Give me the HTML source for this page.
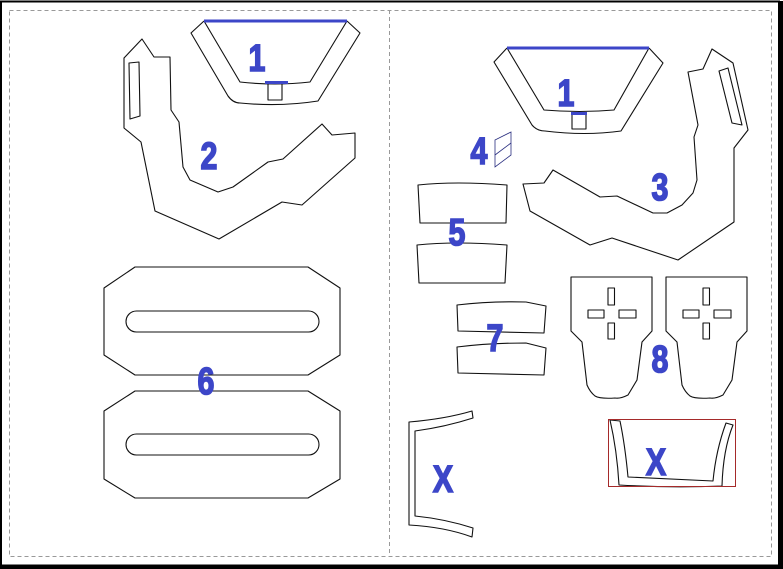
<!DOCTYPE html>
<html><head><meta charset="utf-8"><style>
html,body{margin:0;padding:0;background:#fff;}
svg{display:block;}
text{font-family:"Liberation Sans Narrow","Liberation Sans",sans-serif;font-weight:bold;fill:#3c46c8;stroke:#3c46c8;stroke-width:1.6;text-anchor:middle;}
</style></head><body>
<svg width="783" height="569" viewBox="0 0 783 569" xmlns="http://www.w3.org/2000/svg">
<rect x="0" y="0" width="783" height="569" fill="#fff"/>
<rect x="1" y="1.5" width="778" height="564" fill="none" stroke="#000" stroke-width="2"/>
<rect x="779" y="1" width="4" height="568" fill="#000"/>
<rect x="0" y="565" width="783" height="4" fill="#000"/>
<g fill="none" stroke="#999" stroke-width="1" stroke-dasharray="4,3">
<rect x="9.5" y="10.5" width="762" height="546"/>
<line x1="389.5" y1="10" x2="389.5" y2="556"/>
</g>
<g fill="none" stroke="#111" stroke-width="1.1" stroke-linejoin="round">
<path d="M204,21 L191,33 L228,96 Q233,103 240,103 Q280,107 318,101 L360,33 L347,21"/>
<path d="M204,21 L240,82 Q275,86 310,82 L347,21"/>
<rect x="268" y="83" width="14" height="17"/>
<path d="M142,39 L154,57 L170,57 L171,110 L179,122 L183,167 L190,180 L218,192 L233,187 L268,162 L283,159 L322,124 L332,135 L355,133 L355,158 L302,205 L282,202 L219,239 L155,211 L141,142 L124,128 L124,58 Z"/>
<path d="M129,63 L139,62 L140,116 L130,119 Z"/>
<path d="M507,48 L494,62 L532,125 Q537,131 545,131 Q585,136 621,131 L663,63 L649,48"/>
<path d="M507,48 L544,110 Q580,113 614,110 L649,48"/>
<rect x="572" y="114" width="14" height="15"/>
<path d="M712,49 L733,63 L748,130 L734,148 L734,222 L678,260 L612,238 L590,245 L530,211 L523,184 L544,183 L553,170 L600,197 L617,196 L653,213 L667,213 L682,205 L693,193 L697,180 L694,137 L698,125 L688,72 L703,69 Z"/>
<path d="M719,71 L728,68 L742,125 L732,123 Z"/>
<path d="M418,185 Q455,181 507,185 L506,223 L420,223 Z"/>
<path d="M417,245 Q455,241 507,245 L505,283 L419,283 Z"/>
<path d="M457,305 Q490,301 526,302 L546,306 L544,333 L458,331 Z"/>
<path d="M457,347 Q490,343 526,343 L546,348 L544,375 L458,373 Z"/>
<g id="p8">
<path d="M571,277 L652,277 L652,331 L642,342 L637,380 L628,395 Q620,399 615,398 Q600,399 595,396 Q590,392 587,385 L582,342 L571,331 Z"/>
<rect x="608" y="288" width="6.5" height="17"/>
<rect x="608" y="323" width="6.5" height="16"/>
<rect x="588" y="310" width="16" height="8"/>
<rect x="619" y="310" width="17" height="8"/>
</g>
<use href="#p8" x="95"/>
<path d="M135,267 L308,267 L340,288 L340,355 L308,375 L135,375 L104,355 L104,288 Z"/>
<rect x="126" y="311" width="193" height="21" rx="10.5"/>
<path d="M135,391 L308,391 L340,411 L340,479 L308,498 L135,498 L104,479 L104,411 Z"/>
<rect x="126" y="434" width="193" height="21" rx="10.5"/>
<path d="M409,422 Q445,419 472,411 L473,418 Q445,427 415,431 L415,516 Q445,519 473,528 L472,537 Q445,527 409,525 Z"/>
<path d="M610,420 Q617,450 619,485 Q670,488 722,486 Q723,450 733,425 L726,423 Q716,450 713,481 L628,477 Q625,445 620,421 Z"/>
</g>
<rect x="608.5" y="419.5" width="127" height="67" fill="none" stroke="#a52a2a" stroke-width="1"/>
<line x1="204" y1="21" x2="347" y2="21" stroke="#3c46c8" stroke-width="3"/>
<line x1="265" y1="82.5" x2="288" y2="82.5" stroke="#3c46c8" stroke-width="3"/>
<line x1="507" y1="48" x2="649" y2="48" stroke="#3c46c8" stroke-width="3"/>
<line x1="571" y1="113.5" x2="587" y2="113.5" stroke="#3c46c8" stroke-width="3"/>
<g fill="none" stroke="#2a2f80" stroke-width="0.8">
<path d="M495,140 L511,132 L511,155 L495,167 Z"/>
<line x1="495" y1="155" x2="511" y2="143"/>
</g>
<g font-size="38">
<text x="257" y="71" transform="translate(257 0) scale(0.8 1) translate(-257 0)">1</text>
<text x="209" y="169" transform="translate(209 0) scale(0.8 1) translate(-209 0)">2</text>
<text x="566" y="106" transform="translate(566 0) scale(0.8 1) translate(-566 0)">1</text>
<text x="479" y="164" transform="translate(479 0) scale(0.8 1) translate(-479 0)">4</text>
<text x="660" y="200" transform="translate(660 0) scale(0.8 1) translate(-660 0)">3</text>
<text x="457" y="245" transform="translate(457 0) scale(0.8 1) translate(-457 0)">5</text>
<text x="495" y="351" transform="translate(495 0) scale(0.8 1) translate(-495 0)">7</text>
<text x="660" y="372" transform="translate(660 0) scale(0.8 1) translate(-660 0)">8</text>
<text x="206" y="394" transform="translate(206 0) scale(0.8 1) translate(-206 0)">6</text>
<text x="443" y="492" transform="translate(443 0) scale(0.8 1) translate(-443 0)">X</text>
<text x="656" y="475" transform="translate(656 0) scale(0.8 1) translate(-656 0)">X</text>
</g>
</svg>
</body></html>
